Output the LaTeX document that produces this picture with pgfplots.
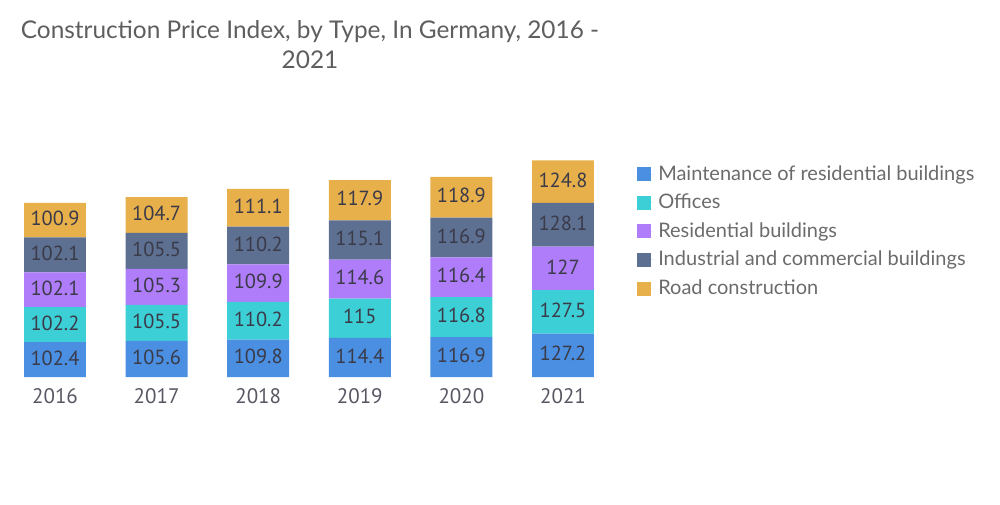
\documentclass[border=0pt]{standalone}
\usepackage{fontspec}
\setmainfont{Lato}
\newfontfamily\valfont{PT Sans}
\usepackage{pgfplots}
\pgfplotsset{compat=1.18}
\definecolor{cMaint}{HTML}{4A8FE2}
\definecolor{cOff}{HTML}{3DCFD6}
\definecolor{cRes}{HTML}{B07DFA}
\definecolor{cInd}{HTML}{5D7092}
\definecolor{cRoad}{HTML}{E8B04B}
\definecolor{titlegray}{HTML}{5E5E5E}
\definecolor{leggray}{HTML}{6B6B6B}
\definecolor{valgray}{HTML}{3A3A48}
\begin{document}
\begin{tikzpicture}
\path (0,0) rectangle (500pt,252pt);
\node[font=\fontsize{12.2}{15}\selectfont, text=titlegray, align=center] at (155pt,229.5pt)
  {Construction Price Index, by Type, In Germany, 2016 -\\2021};
\begin{axis}[
    at={(2.1pt,63.5pt)}, anchor=south west,
    scale only axis, width=304.8pt, height=119.5pt,
    ybar stacked, bar width=0.61,
    xmin=-0.5, xmax=5.5, ymin=0, ymax=700,
    axis line style={draw=none}, tick style={draw=none},
    ytick=\empty,
    xtick={0,1,2,3,4,5},
    xticklabels={2016,2017,2018,2019,2020,2021},
    xticklabel style={font=\valfont\fontsize{10.5}{12}\selectfont, text=valgray!85, yshift=-2pt},
    nodes near coords={\pgfmathprintnumber[fixed,precision=1,assume math mode=true]{\rawy}},
    visualization depends on=rawy\as\rawy,
    every node near coord/.append style={anchor=center, font=\valfont\fontsize{10.2}{12}\selectfont, text=valgray,
      yshift=0.8pt},
    legend style={at={(1.028,0.92)}, anchor=north west, draw=none, fill=none,
      font=\fontsize{10}{12}\selectfont, text=leggray, row sep=1.4pt,
      cells={anchor=west}},
    legend image code/.code={\fill[#1] (0pt,-3.5pt) rectangle (7pt,3.5pt); \path (0pt,0pt) -- (8.5pt,0pt);},
  ]
\addplot[fill=cMaint, draw=none] coordinates {(0,102.4) (1,105.6) (2,109.8) (3,114.4) (4,116.9) (5,127.2)};
\addplot[fill=cOff, draw=none] coordinates {(0,102.2) (1,105.5) (2,110.2) (3,115) (4,116.8) (5,127.5)};
\addplot[fill=cRes, draw=none] coordinates {(0,102.1) (1,105.3) (2,109.9) (3,114.6) (4,116.4) (5,127)};
\addplot[fill=cInd, draw=none] coordinates {(0,102.1) (1,105.5) (2,110.2) (3,115.1) (4,116.9) (5,128.1)};
\addplot[fill=cRoad, draw=none] coordinates {(0,100.9) (1,104.7) (2,111.1) (3,117.9) (4,118.9) (5,124.8)};
\legend{Maintenance of residential buildings, Offices, Residential buildings, Industrial and commercial buildings, Road construction}
\end{axis}
\end{tikzpicture}
\end{document}
